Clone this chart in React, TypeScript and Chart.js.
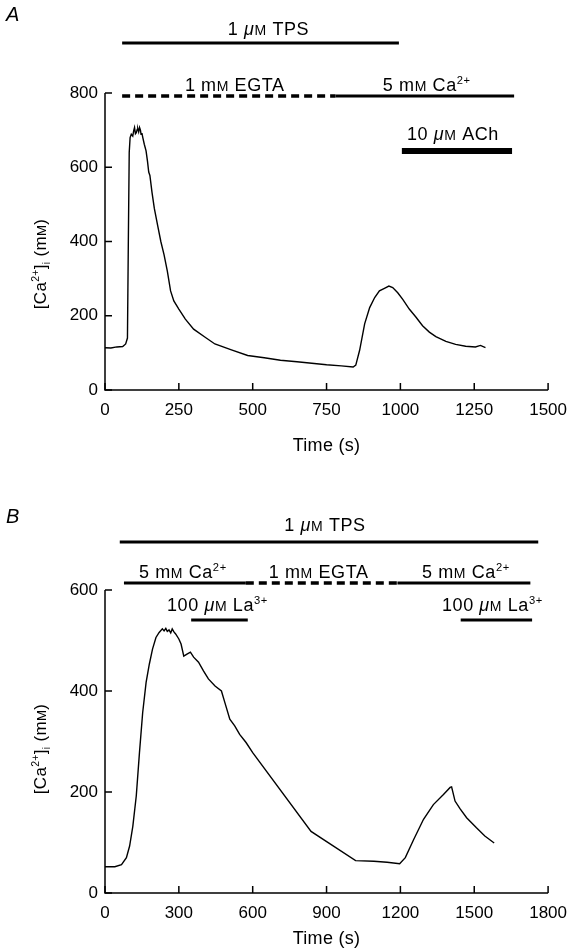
import React, { useEffect, useRef } from 'react';
import { Chart, registerables } from 'chart.js';

Chart.register(...registerables);

// ---------- Panel A data ----------
const timeA = [0, 20, 40, 60, 70, 76, 79, 82, 85, 89, 94, 97, 100, 103, 106, 109, 111, 114, 117, 120, 122, 125, 128, 133, 139, 144, 148, 152, 159, 167, 178, 189, 200, 211, 222, 233, 250, 272, 300, 339, 372, 428, 483, 539, 594, 650, 700, 750, 800, 840, 849, 862, 879, 896, 913, 929, 946, 961, 974, 991, 1008, 1030, 1053, 1075, 1098, 1120, 1154, 1187, 1221, 1254, 1271, 1288];
const calciumA = [114, 113, 116, 117, 124, 140, 400, 640, 680, 689, 684, 698, 707, 690, 693, 702, 704, 695, 707, 700, 689, 692, 680, 662, 644, 615, 587, 578, 533, 489, 444, 400, 364, 320, 267, 240, 218, 191, 164, 142, 124, 108, 93, 87, 80, 76, 72, 68, 65, 62, 67, 107, 178, 222, 249, 267, 274, 280, 276, 262, 244, 218, 196, 173, 156, 144, 131, 123, 118, 116, 120, 114];
const xTicksA = [0, 250, 500, 750, 1000, 1250, 1500];
const yTicksA = [0, 200, 400, 600, 800];
// treatment periods (s)
const tpsA = [58, 995];
const egtaA = [58, 780];
const calcium5A = [780, 1385];
const achA = [1005, 1378];

// ---------- Panel B data ----------
const timeB = [0, 40, 67, 87, 100, 113, 127, 140, 153, 167, 180, 193, 207, 220, 233, 240, 247, 253, 260, 267, 273, 280, 287, 300, 309, 320, 333, 347, 360, 380, 400, 420, 447, 473, 487, 507, 527, 547, 573, 600, 837, 1018, 1092, 1146, 1197, 1220, 1254, 1294, 1334, 1375, 1402, 1408, 1422, 1442, 1469, 1509, 1543, 1581];
const calciumB = [52, 52, 56, 70, 93, 132, 192, 278, 357, 417, 453, 483, 506, 516, 523, 519, 524, 518, 521, 515, 523, 517, 513, 503, 493, 469, 473, 477, 467, 457, 440, 424, 410, 400, 377, 344, 331, 314, 298, 278, 122, 64, 63, 61, 58, 70, 106, 146, 175, 195, 209, 210, 182, 167, 149, 129, 113, 99];
const xTicksB = [0, 300, 600, 900, 1200, 1500, 1800];
const yTicksB = [0, 200, 400, 600];
const tpsB = [60, 1760];
const calcium5B1 = [77, 572];
const egtaB = [572, 1188];
const calcium5B2 = [1188, 1728];
const lanthanumB1 = [350, 580];
const lanthanumB2 = [1445, 1735];

// ---------- text helpers ----------
type Seg = { t: string; k?: 'sup' | 'sub' | 'sc' | 'it' };
const FAM = '"Liberation Sans", Arial, Helvetica, sans-serif';

const lblTPS: Seg[] = [{ t: '1 ' }, { t: 'μ', k: 'it' }, { t: 'M', k: 'sc' }, { t: ' TPS' }];
const lblEGTA: Seg[] = [{ t: '1 m' }, { t: 'M', k: 'sc' }, { t: ' EGTA' }];
const lblCa: Seg[] = [{ t: '5 m' }, { t: 'M', k: 'sc' }, { t: ' Ca' }, { t: '2+', k: 'sup' }];
const lblACh: Seg[] = [{ t: '10 ' }, { t: 'μ', k: 'it' }, { t: 'M', k: 'sc' }, { t: ' ACh' }];
const lblLa: Seg[] = [{ t: '100 ' }, { t: 'μ', k: 'it' }, { t: 'M', k: 'sc' }, { t: ' La' }, { t: '3+', k: 'sup' }];
const lblY: Seg[] = [{ t: '[Ca' }, { t: '2+', k: 'sup' }, { t: ']' }, { t: 'i', k: 'sub' }, { t: ' (m' }, { t: 'M', k: 'sc' }, { t: ')' }];
const lblX: Seg[] = [{ t: 'Time (s)' }];

function drawRich(ctx: CanvasRenderingContext2D, segs: Seg[], x: number, y: number, size: number, spacing = 0) {
  const parts = segs.map((s) => {
    let sz = size;
    let it = false;
    let dy = 0;
    if (s.k === 'sup') { sz = size * 0.62; dy = -size * 0.4; }
    if (s.k === 'sub') { sz = size * 0.62; dy = size * 0.22; }
    if (s.k === 'sc') { sz = size * 0.78; }
    if (s.k === 'it') { it = true; }
    const font = `${it ? 'italic ' : ''}${sz}px ${FAM}`;
    ctx.font = font;
    (ctx as any).letterSpacing = `${spacing}px`;
    const w = ctx.measureText(s.t).width;
    return { t: s.t, font, dy, w };
  });
  const total = parts.reduce((a, p) => a + p.w, 0);
  let cx = x - total / 2;
  ctx.textAlign = 'left';
  ctx.textBaseline = 'alphabetic';
  for (const p of parts) {
    ctx.font = p.font;
    (ctx as any).letterSpacing = `${spacing}px`;
    ctx.fillText(p.t, cx, y + p.dy);
    cx += p.w;
  }
  (ctx as any).letterSpacing = '0px';
}

type Bar = { r: number[]; y: number; w: number; dash?: number[] };
type Lbl = { segs: Seg[]; r: number[]; y: number; dx: number };
type Spec = {
  top: number; height: number;
  padTop: number; padRight: number; xAxisH: number;
  xMax: number; yMax: number;
  xTicks: number[]; yTicks: number[];
  time: number[]; values: number[];
  bars: Bar[]; labels: Lbl[];
  xTitleY: number; yTitleY: number; letter: string; letterY: number;
};

function overlay(spec: Spec) {
  return {
    id: 'overlay',
    afterDraw(chart: any) {
      const ctx: CanvasRenderingContext2D = chart.ctx;
      const xs = chart.scales.x;
      const ys = chart.scales.y;
      const ca = chart.chartArea;
      const off = spec.top;
      ctx.save();
      ctx.strokeStyle = '#000';
      ctx.fillStyle = '#000';
      ctx.lineWidth = 1.5;
      ctx.beginPath();
      ctx.moveTo(ca.left, ca.top);
      ctx.lineTo(ca.left, ca.bottom);
      ctx.lineTo(ca.right, ca.bottom);
      ctx.stroke();
      ctx.beginPath();
      spec.xTicks.forEach((v) => {
        const px = xs.getPixelForValue(v);
        ctx.moveTo(px, ca.bottom);
        ctx.lineTo(px, ca.bottom - 7);
      });
      spec.yTicks.forEach((v) => {
        const py = ys.getPixelForValue(v);
        ctx.moveTo(ca.left, py);
        ctx.lineTo(ca.left + 7, py);
      });
      ctx.stroke();
      spec.bars.forEach((b) => {
        ctx.lineWidth = b.w;
        ctx.setLineDash(b.dash || []);
        ctx.beginPath();
        ctx.moveTo(xs.getPixelForValue(b.r[0]), b.y - off);
        ctx.lineTo(xs.getPixelForValue(b.r[1]), b.y - off);
        ctx.stroke();
      });
      ctx.setLineDash([]);
      spec.labels.forEach((l) => {
        const cx = (xs.getPixelForValue(l.r[0]) + xs.getPixelForValue(l.r[1])) / 2 + l.dx;
        drawRich(ctx, l.segs, cx, l.y - off, 18, 0.6);
      });
      drawRich(ctx, lblX, (ca.left + ca.right) / 2, spec.xTitleY - off, 18, 0.3);
      ctx.save();
      ctx.translate(46, spec.yTitleY - off);
      ctx.rotate(-Math.PI / 2);
      drawRich(ctx, lblY, 0, 0, 17, 0.3);
      ctx.restore();
      ctx.font = `italic 20px ${FAM}`;
      ctx.textAlign = 'left';
      ctx.fillText(spec.letter, 6, spec.letterY - off);
      ctx.restore();
    },
  };
}

function buildChart(canvas: HTMLCanvasElement, spec: Spec) {
  return new Chart(canvas, {
    type: 'line',
    data: {
      datasets: [
        {
          data: spec.time.map((t, i) => ({ x: t, y: spec.values[i] })),
          borderColor: '#000',
          borderWidth: 1.4,
          pointRadius: 0,
          tension: 0,
          fill: false,
        },
      ],
    },
    options: {
      responsive: false,
      animation: false,
      events: [],
      layout: { padding: { top: spec.padTop, right: spec.padRight, left: 0, bottom: 0 } },
      plugins: { legend: { display: false }, tooltip: { enabled: false }, title: { display: false } },
      scales: {
        x: {
          type: 'linear',
          min: 0,
          max: spec.xMax,
          grid: { display: false, drawTicks: false },
          border: { display: false },
          afterBuildTicks: (scale: any) => { scale.ticks = spec.xTicks.map((v) => ({ value: v })); },
          afterFit: (scale: any) => { scale.height = spec.xAxisH; },
          ticks: {
            color: '#000',
            padding: 10,
            maxRotation: 0,
            autoSkip: false,
            font: { family: FAM, size: 17 },
            callback: (v: any) => String(v),
          },
        },
        y: {
          type: 'linear',
          min: 0,
          max: spec.yMax,
          grid: { display: false, drawTicks: false },
          border: { display: false },
          afterBuildTicks: (scale: any) => { scale.ticks = spec.yTicks.map((v) => ({ value: v })); },
          afterFit: (scale: any) => { scale.width = 105; },
          ticks: {
            color: '#000',
            padding: 7,
            autoSkip: false,
            font: { family: FAM, size: 17 },
            callback: (v: any) => String(v),
          },
        },
      },
    },
    plugins: [overlay(spec)],
  } as any);
}

const specA: Spec = {
  top: 0, height: 475, padTop: 93, padRight: 23, xAxisH: 85,
  xMax: 1500, yMax: 800, xTicks: xTicksA, yTicks: yTicksA,
  time: timeA, values: calciumA,
  bars: [
    { r: tpsA, y: 43, w: 3 },
    { r: egtaA, y: 96, w: 3.5, dash: [8, 5] },
    { r: calcium5A, y: 96, w: 3 },
    { r: achA, y: 151, w: 6 },
  ],
  labels: [
    { segs: lblTPS, r: tpsA, y: 35, dx: 8 },
    { segs: lblEGTA, r: egtaA, y: 91, dx: 6 },
    { segs: lblCa, r: calcium5A, y: 91, dx: 2 },
    { segs: lblACh, r: achA, y: 140, dx: -4 },
  ],
  xTitleY: 451, yTitleY: 264, letter: 'A', letterY: 21,
};

const specB: Spec = {
  top: 475, height: 476, padTop: 115, padRight: 24, xAxisH: 58,
  xMax: 1800, yMax: 600, xTicks: xTicksB, yTicks: yTicksB,
  time: timeB, values: calciumB,
  bars: [
    { r: tpsB, y: 542, w: 3 },
    { r: calcium5B1, y: 583, w: 3 },
    { r: egtaB, y: 583, w: 3.5, dash: [8, 5] },
    { r: calcium5B2, y: 583, w: 3 },
    { r: lanthanumB1, y: 620, w: 3 },
    { r: lanthanumB2, y: 620, w: 3 },
  ],
  labels: [
    { segs: lblTPS, r: tpsB, y: 531, dx: -4 },
    { segs: lblCa, r: calcium5B1, y: 578, dx: -2 },
    { segs: lblEGTA, r: egtaB, y: 578, dx: -3 },
    { segs: lblCa, r: calcium5B2, y: 578, dx: 2 },
    { segs: lblLa, r: lanthanumB1, y: 611, dx: -2 },
    { segs: lblLa, r: lanthanumB2, y: 611, dx: -4 },
  ],
  xTitleY: 944, yTitleY: 749, letter: 'B', letterY: 523,
};

export default function App() {
  const refA = useRef<HTMLCanvasElement | null>(null);
  const refB = useRef<HTMLCanvasElement | null>(null);

  useEffect(() => {
    const charts: Chart[] = [];
    if (refA.current) charts.push(buildChart(refA.current, specA));
    if (refB.current) charts.push(buildChart(refB.current, specB));
    return () => charts.forEach((c) => c.destroy());
  }, []);

  return (
    <div style={{ position: 'absolute', left: 0, top: 0, width: 577, height: 951, background: '#fff' }}>
      <canvas
        ref={refA}
        width={577}
        height={475}
        style={{ position: 'absolute', left: 0, top: 0, width: 577, height: 475 }}
      />
      <canvas
        ref={refB}
        width={577}
        height={476}
        style={{ position: 'absolute', left: 0, top: 475, width: 577, height: 476 }}
      />
    </div>
  );
}
